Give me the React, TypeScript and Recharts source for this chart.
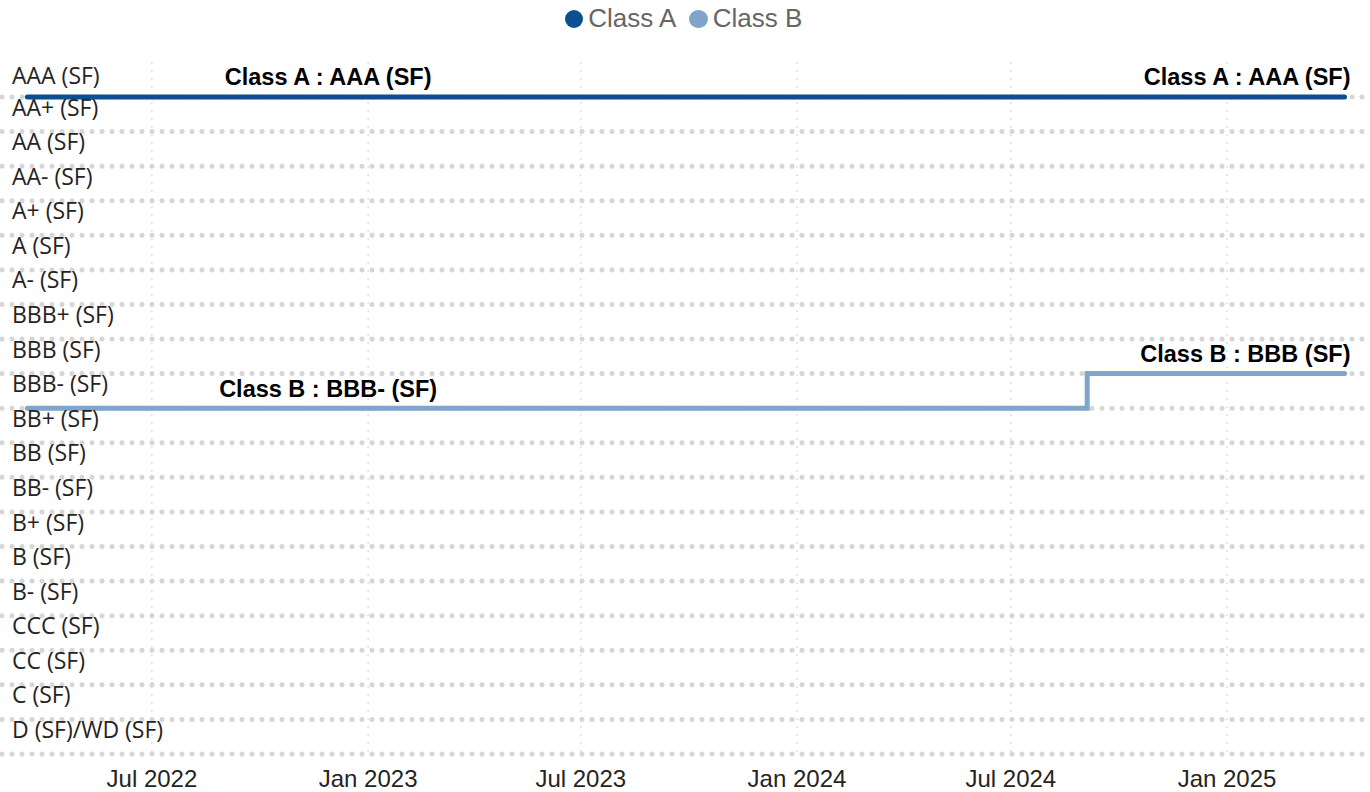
import React from 'react';
import { LineChart, Line, XAxis, YAxis, CartesianGrid, Legend, LabelList } from 'recharts';

const ratingLabels = [
  'D (SF)/WD (SF)', 'C (SF)', 'CC (SF)', 'CCC (SF)', 'B- (SF)', 'B (SF)', 'B+ (SF)',
  'BB- (SF)', 'BB (SF)', 'BB+ (SF)', 'BBB- (SF)', 'BBB (SF)', 'BBB+ (SF)', 'A- (SF)',
  'A (SF)', 'A+ (SF)', 'AA- (SF)', 'AA (SF)', 'AA+ (SF)', 'AAA (SF)',
];
const ratingTicks = ratingLabels.map((_, i) => i);

const xTickDates = [
  Date.UTC(2022, 6, 1), Date.UTC(2023, 0, 1), Date.UTC(2023, 6, 1),
  Date.UTC(2024, 0, 1), Date.UTC(2024, 6, 1), Date.UTC(2025, 0, 1),
];
const xTickLabels = ['Jul 2022', 'Jan 2023', 'Jul 2023', 'Jan 2024', 'Jul 2024', 'Jan 2025'];
const xDomain = [Date.UTC(2022, 1, 23, 10), Date.UTC(2025, 3, 29, 7)];

const classAData = [
  { date: Date.UTC(2022, 2, 17), rating: 19 },
  { date: Date.UTC(2022, 10, 28), rating: 19, label: 'Class A : AAA (SF)' },
  { date: Date.UTC(2025, 3, 11), rating: 19, label: 'Class A : AAA (SF)' },
];
const classBData = [
  { date: Date.UTC(2022, 2, 17), rating: 10 },
  { date: Date.UTC(2022, 10, 28), rating: 10, label: 'Class B : BBB- (SF)' },
  { date: Date.UTC(2024, 8, 4), rating: 11 },
  { date: Date.UTC(2025, 3, 11), rating: 11, label: 'Class B : BBB (SF)' },
];

const series = [
  { name: 'Class A', color: '#0B4F91', data: classAData },
  { name: 'Class B', color: '#7FA6CA', data: classBData },
];

const YTick = (props: any) => {
  const { y, payload } = props;
  const top = payload.value === ratingLabels.length - 1;
  return (
    <text x={12} y={y + (top ? -12.5 : -16)} textAnchor="start" fill="#252423"
      style={{ fontFamily: '"Segoe UI", "Open Sans", sans-serif', fontSize: 23 }}>
      {ratingLabels[payload.value]}
    </text>
  );
};

const XTick = (props: any) => {
  const { x, y, payload } = props;
  const i = xTickDates.indexOf(payload.value);
  return (
    <text x={x} y={y + 32.7} textAnchor="middle" fill="#252423"
      style={{ fontFamily: '"Liberation Sans", Arial, sans-serif', fontSize: 24 }}>
      {xTickLabels[i]}
    </text>
  );
};

const makeLabel = (data: any[]) => (props: any) => {
  const { x, y, index } = props;
  const item = data[index];
  if (!item || !item.label) return null;
  const last = index === data.length - 1;
  return (
    <text x={last ? x + 6 : x} y={y - 11.5} textAnchor={last ? 'end' : 'middle'} fill="#000"
      style={{ fontFamily: '"Liberation Sans", Arial, sans-serif', fontSize: 23.5, fontWeight: 700 }}>
      {item.label}
    </text>
  );
};

const LegendContent = () => (
  <div style={{ height: 36, display: 'flex', justifyContent: 'center', alignItems: 'center',
    fontFamily: '"Liberation Sans", Arial, sans-serif', fontSize: 26, lineHeight: 1, color: '#666' }}>
    {series.map((s, i) => (
      <div key={s.name} style={{ display: 'flex', alignItems: 'center', marginLeft: i ? 13 : 0 }}>
        <span style={{ width: 18.5, height: 18.5, borderRadius: '50%', background: s.color, display: 'inline-block', marginRight: 5, position: 'relative', top: 1 }} />
        <span>{s.name}</span>
      </div>
    ))}
  </div>
);

export default function App() {
  return (
    <div style={{ position: 'absolute', left: 0, top: 0 }}>
      <LineChart width={1370} height={792} margin={{ top: 26.4, right: 4, bottom: 0, left: 1 }}>
        <CartesianGrid horizontal={true} vertical={false} horizontalValues={ratingTicks}
          stroke="#d6d6d6" strokeWidth={5} strokeDasharray="0 10" strokeLinecap="round" />
        <CartesianGrid horizontal={false} vertical={true} verticalValues={xTickDates}
          stroke="#c4c4c4" strokeWidth={1} strokeDasharray="1.5 6.5" />
        <XAxis type="number" dataKey="date" domain={xDomain} ticks={xTickDates} allowDataOverflow
          axisLine={false} tickLine={false} tickSize={0} tickMargin={0} height={38} tick={<XTick />} interval={0} />
        <YAxis type="number" domain={[0, 20]} ticks={ratingTicks} width={1} axisLine={false}
          tickLine={false} tickSize={0} tickMargin={0} tick={<YTick />} interval={0} />
        <Legend verticalAlign="top" align="center" wrapperStyle={{ top: 0 }} content={<LegendContent />} />
        {series.map((s) => (
          <Line key={s.name} name={s.name} data={s.data} dataKey="rating" type="stepAfter"
            stroke={s.color} strokeWidth={5} strokeLinecap="round" dot={false} activeDot={false}
            isAnimationActive={false}>
            <LabelList dataKey="label" content={makeLabel(s.data)} />
          </Line>
        ))}
      </LineChart>
    </div>
  );
}
